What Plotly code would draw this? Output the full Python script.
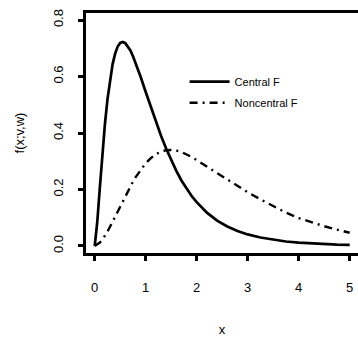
import plotly.graph_objects as go

x_vals = [0, 0.05, 0.1, 0.15, 0.2, 0.25, 0.3, 0.35, 0.4, 0.45, 0.5, 0.55, 0.6, 0.65, 0.7, 0.75,
          0.8, 0.9, 1.0, 1.1, 1.2, 1.3, 1.4, 1.5, 1.6, 1.7, 1.8, 1.9, 2.0, 2.2, 2.4, 2.6, 2.8,
          3.0, 3.25, 3.5, 3.75, 4.0, 4.25, 4.5, 4.75, 5.0]
central_f = [0, 0.085, 0.206, 0.325, 0.431, 0.519, 0.590, 0.643, 0.681, 0.706, 0.719, 0.722,
             0.718, 0.707, 0.692, 0.672, 0.650, 0.599, 0.545, 0.491, 0.439, 0.390, 0.345,
             0.303, 0.266, 0.232, 0.203, 0.177, 0.155, 0.118, 0.090, 0.069, 0.053, 0.041,
             0.030, 0.022, 0.016, 0.012, 0.009, 0.0068, 0.0051, 0.0039]
noncentral_f = [0, 0.005, 0.012, 0.022, 0.035, 0.051, 0.068, 0.086, 0.105, 0.124, 0.142, 0.160,
                0.178, 0.195, 0.212, 0.228, 0.243, 0.270, 0.293, 0.311, 0.325, 0.334, 0.339,
                0.340, 0.338, 0.333, 0.325, 0.315, 0.304, 0.281, 0.257, 0.233, 0.211, 0.190,
                0.165, 0.142, 0.118, 0.099, 0.084, 0.070, 0.058, 0.047]
series_names = ["Central F", "Noncentral F"]
x_ticks = [0, 1, 2, 3, 4, 5]
y_ticks = [0.0, 0.2, 0.4, 0.6, 0.8]
y_tick_labels = ["0.0", "0.2", "0.4", "0.6", "0.8"]

FONT = "Arial, Liberation Sans, Helvetica, sans-serif"

fig = go.Figure()
fig.add_trace(go.Scatter(x=x_vals, y=central_f, mode="lines", name=series_names[0],
                         legendgroup="a",
                         line=dict(color="black", width=2.7)))
fig.add_trace(go.Scatter(x=x_vals, y=noncentral_f, mode="lines", name=series_names[1],
                         legendgroup="b",
                         line=dict(color="black", width=2.4, dash="8px,5px,2px,5px")))

fig.update_layout(
    width=358, height=337,
    margin=dict(l=86, r=0, t=13, b=84, autoexpand=False),
    paper_bgcolor="white", plot_bgcolor="white",
    font=dict(family=FONT, color="black", size=13),
    showlegend=True,
    legend=dict(x=0.3625, y=0.670, xanchor="left", yanchor="middle",
                bgcolor="rgba(0,0,0,0)", font=dict(size=11, family=FONT),
                tracegroupgap=2, itemwidth=40),
    xaxis=dict(range=[-0.171, 5.163], tickvals=x_ticks, ticktext=[str(t) for t in x_ticks],
               showgrid=False, zeroline=False, showline=True, linecolor="black", linewidth=3,
               mirror=True, ticks="outside", ticklen=5, tickwidth=2.5, tickcolor="black",
               ticklabelstandoff=15, tickfont=dict(size=13), automargin=False,
               title=dict(text="x", font=dict(size=13), standoff=32)),
    yaxis=dict(range=[-0.0248, 0.8248], tickvals=y_ticks, ticktext=y_tick_labels,
               showgrid=False, zeroline=False, showline=True, linecolor="black", linewidth=3,
               ticks="outside", ticklen=5, tickwidth=2.5, tickcolor="black",
               tickangle=-90, ticklabelstandoff=10, tickfont=dict(size=13), automargin=False,
               title=dict(text="f(x;v,w)", font=dict(size=13), standoff=24)),
)

fig.write_html("out.html", config={"displayModeBar": False},
               post_script="document.body.style.margin='0';document.body.style.padding='0';")
